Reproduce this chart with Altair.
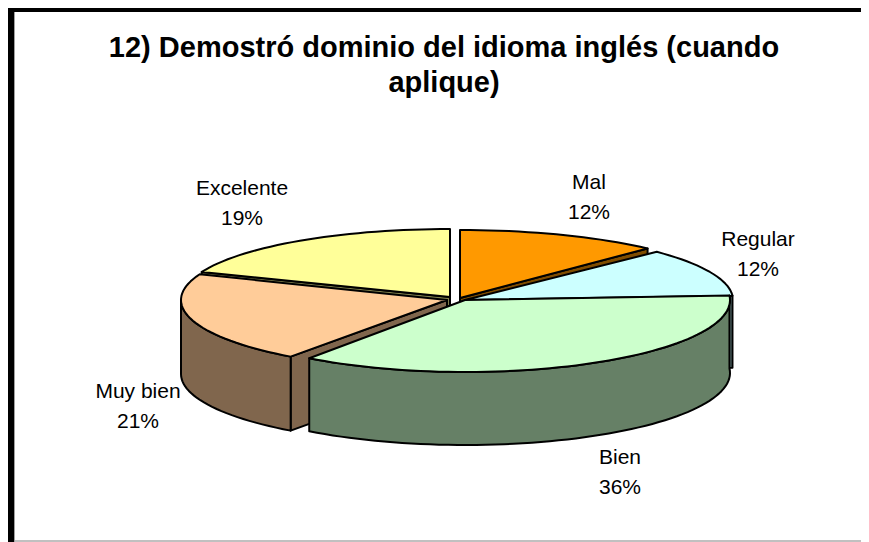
import math
import altair as alt

categories = ["Mal", "Regular", "Bien", "Muy bien", "Excelente"]
percent = [12, 12, 36, 21, 19]
top_colors = ["#FF9900", "#CCFFFF", "#CCFFCC", "#FFCC99", "#FFFF99"]
wall_colors = ["#804D00", "#668080", "#668066", "#80664D", "#80804D"]
title_lines = ["12) Demostró dominio del idioma inglés (cuando", "aplique)"]

W, H = 853, 534
M = 8  # page margin
# layout of each exploded slice: vertex x, vertex y, radii, depth, angle nudge of start
layout = {
    "Mal": (460, 298, 274, 68, 72, 0.0),
    "Regular": (465, 300, 268, 69, 72, 2.5),
    "Bien": (465, 300, 265, 72, 73, 0.0),
    "Muy bien": (447, 300, 266, 70, 74, 0.0),
    "Excelente": (450, 297, 267, 68, 72, 0.0),
}
label_pos = {
    "Mal": (589, 189),
    "Regular": (758, 246),
    "Bien": (620, 464),
    "Muy bien": (138, 398),
    "Excelente": (242, 195),
}

# slice angles from the values
angles = {}
run = 0
for c, p in zip(categories, percent):
    angles[c] = (run * 3.6 + layout[c][5], (run + p) * 3.6)
    run += p


def pt(c, a, drop=0):
    vx, vy, rx, ry, d, _ = layout[c]
    t = math.radians(a)
    return [vx + rx * math.sin(t) - M, vy - ry * math.cos(t) + drop - M]


def arc(c, a0, a1, drop=0):
    n = max(2, int(abs(a1 - a0) / 2))
    return [pt(c, a0 + (a1 - a0) * i / n, drop) for i in range(n + 1)]


def vertex(c, drop=0):
    return [layout[c][0] - M, layout[c][1] - M + drop]


def feature(points, fill):
    return {
        "type": "Feature",
        "properties": {"fill": fill},
        "geometry": {"type": "Polygon", "coordinates": [points + [points[0]]]},
    }


def radial_wall(c, a):
    d = layout[c][4]
    return [vertex(c), pt(c, a), pt(c, a, d), vertex(c, d)]


def outer_wall(c, a0, a1):
    d = layout[c][4]
    return arc(c, a0, a1) + arc(c, a1, a0, d)


def top(c):
    a0, a1 = angles[c]
    return [vertex(c)] + arc(c, a0, a1)


col = dict(zip(categories, top_colors))
wal = dict(zip(categories, wall_colors))
features = []
# back to front
c = "Excelente"
features += [feature(radial_wall(c, angles[c][0]), wal[c]), feature(top(c), col[c])]
c = "Mal"
features += [feature(radial_wall(c, angles[c][1]), wal[c]), feature(top(c), col[c])]
c = "Regular"
features += [feature(radial_wall(c, angles[c][1]), wal[c]), feature(top(c), col[c])]
c = "Muy bien"
features += [
    feature(radial_wall(c, angles[c][0]), wal[c]),
    feature(outer_wall(c, angles[c][0], 270), wal[c]),
    feature(top(c), col[c]),
]
c = "Bien"
features += [feature(outer_wall(c, angles[c][0], angles[c][1]), wal[c]), feature(top(c), col[c])]

pie = (
    alt.Chart(alt.Data(values=features))
    .mark_geoshape(stroke="black", strokeWidth=2, strokeJoin="round")
    .encode(fill=alt.Fill("properties.fill:N", scale=None, legend=None))
    .project(type="identity", scale=1, translate=[0, 0])
)

label_rows = []
for c, p in zip(categories, percent):
    x, y = label_pos[c]
    label_rows.append({"t": c, "x": x - M, "y": y - M})
    label_rows.append({"t": f"{p}%", "x": x - M, "y": y + 30 - M})

xs = alt.Scale(domain=[0, W], range=[0, W])
ys = alt.Scale(domain=[0, H], range=[0, H])
labels = (
    alt.Chart(alt.Data(values=label_rows))
    .mark_text(font="Liberation Sans", fontSize=21, color="black", align="center", baseline="alphabetic")
    .encode(x=alt.X("x:Q", scale=xs, axis=None), y=alt.Y("y:Q", scale=ys, axis=None), text="t:N")
)

title_rows = [{"t": title_lines[0], "x": 444 - M, "y": 57 - M}, {"t": title_lines[1], "x": 444 - M, "y": 92 - M}]
title = (
    alt.Chart(alt.Data(values=title_rows))
    .mark_text(font="Liberation Sans", fontSize=29, fontWeight="bold", color="black", align="center", baseline="alphabetic")
    .encode(x=alt.X("x:Q", scale=xs, axis=None), y=alt.Y("y:Q", scale=ys, axis=None), text="t:N")
)

frame_top = alt.Chart(alt.Data(values=[{"a": 0}])).mark_rule(color="black", strokeWidth=4).encode(
    x=alt.value(0), x2=alt.value(W), y=alt.value(2)
)
frame_left = alt.Chart(alt.Data(values=[{"a": 0}])).mark_rule(color="black", strokeWidth=6).encode(
    x=alt.value(3), y=alt.value(0), y2=alt.value(H)
)
frame_left2 = alt.Chart(alt.Data(values=[{"a": 0}])).mark_rule(color="#A0A0A0", strokeWidth=1).encode(
    x=alt.value(6.5), y=alt.value(4), y2=alt.value(H)
)
frame_bottom = alt.Chart(alt.Data(values=[{"a": 0}])).mark_rule(color="#C0C0C0", strokeWidth=2).encode(
    x=alt.value(7), x2=alt.value(W), y=alt.value(533)
)

chart = (
    alt.layer(pie, frame_top, frame_left, frame_left2, frame_bottom, title, labels)
    .resolve_scale(x="shared", y="shared")
    .properties(width=W, height=H, padding=0, autosize=alt.AutoSizeParams(type="none"), background="white")
    .configure_view(stroke=None)
)
chart.save("out.html", embed_options={"renderer": "svg", "actions": False})
